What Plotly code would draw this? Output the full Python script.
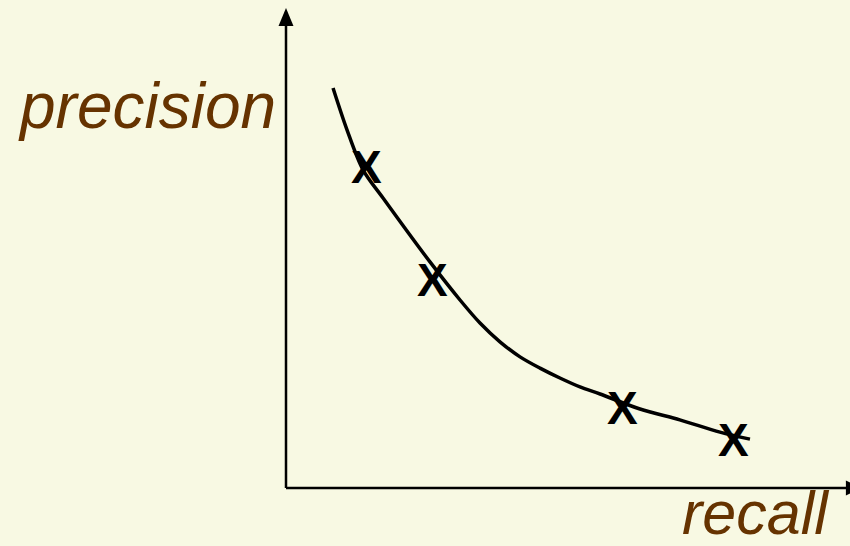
import plotly.graph_objects as go

# Precision/recall trade-off curve (normalised units, origin at the axes corner)
curve_recall = [0.0855, 0.1109, 0.140, 0.1764, 0.2618, 0.3164, 0.3527,
                0.389, 0.4255, 0.4618, 0.498, 0.5345, 0.571, 0.6436,
                0.716, 0.789, 0.8436]
curve_precision = [0.851, 0.762, 0.677, 0.617, 0.481, 0.400, 0.351,
                   0.311, 0.279, 0.255, 0.234, 0.215, 0.200, 0.168,
                   0.145, 0.119, 0.104]

# Measured operating points
point_recall = [0.1455, 0.2655, 0.611, 0.8145]
point_precision = [0.683, 0.443, 0.170, 0.102]

BG = "#F8F9E3"
LABEL = "#663300"
INK = "#000000"
FONT = "Liberation Sans, Arial, sans-serif"

fig = go.Figure()

fig.add_trace(go.Scatter(
    x=curve_recall, y=curve_precision, mode="lines",
    line=dict(color=INK, width=3.5, shape="spline", smoothing=0.9),
    hoverinfo="skip", showlegend=False,
))

# "X" glyphs marking each operating point
for r, p in zip(point_recall, point_precision):
    fig.add_annotation(x=r, y=p, xref="x", yref="y", text="<b>X</b>",
                       showarrow=False, xanchor="center", yanchor="middle",
                       yshift=0,
                       font=dict(family=FONT, size=46, color=INK))

# Axes drawn as arrows from the origin
fig.add_shape(type="line", xref="x", yref="y", x0=0, y0=0, x1=0, y1=1.005,
              line=dict(color=INK, width=2.5))
fig.add_shape(type="path", xref="x", yref="y",
              path="M -0.0136,0.983 L 0.0136,0.983 L 0,1.0213 Z",
              fillcolor=INK, line=dict(color=INK, width=0))
fig.add_shape(type="line", xref="x", yref="y", x0=0, y0=0, x1=1.03, y1=0,
              line=dict(color=INK, width=2.5))
fig.add_shape(type="path", xref="x", yref="y",
              path="M 1.018,0.016 L 1.018,-0.016 L 1.047,0 Z",
              fillcolor=INK, line=dict(color=INK, width=0))

fig.add_annotation(text="precision", xref="paper", yref="paper",
                   x=16 / 850, y=1 - 106 / 546, xanchor="left", yanchor="middle",
                   showarrow=False,
                   font=dict(family=FONT, size=64, color=LABEL, style="italic"))
fig.add_annotation(text="recall", xref="paper", yref="paper",
                   x=680 / 850, y=1 - 513 / 546, xanchor="left", yanchor="middle",
                   showarrow=False,
                   font=dict(family=FONT, size=61, color=LABEL, style="italic"))

fig.update_layout(
    width=850, height=546,
    margin=dict(l=0, r=0, t=0, b=0),
    paper_bgcolor=BG, plot_bgcolor=BG,
    xaxis=dict(range=[-0.52, 1.02545], visible=False, fixedrange=True),
    yaxis=dict(range=[-0.1234, 1.0383], visible=False, fixedrange=True),
)

fig.write_html("out.html")
